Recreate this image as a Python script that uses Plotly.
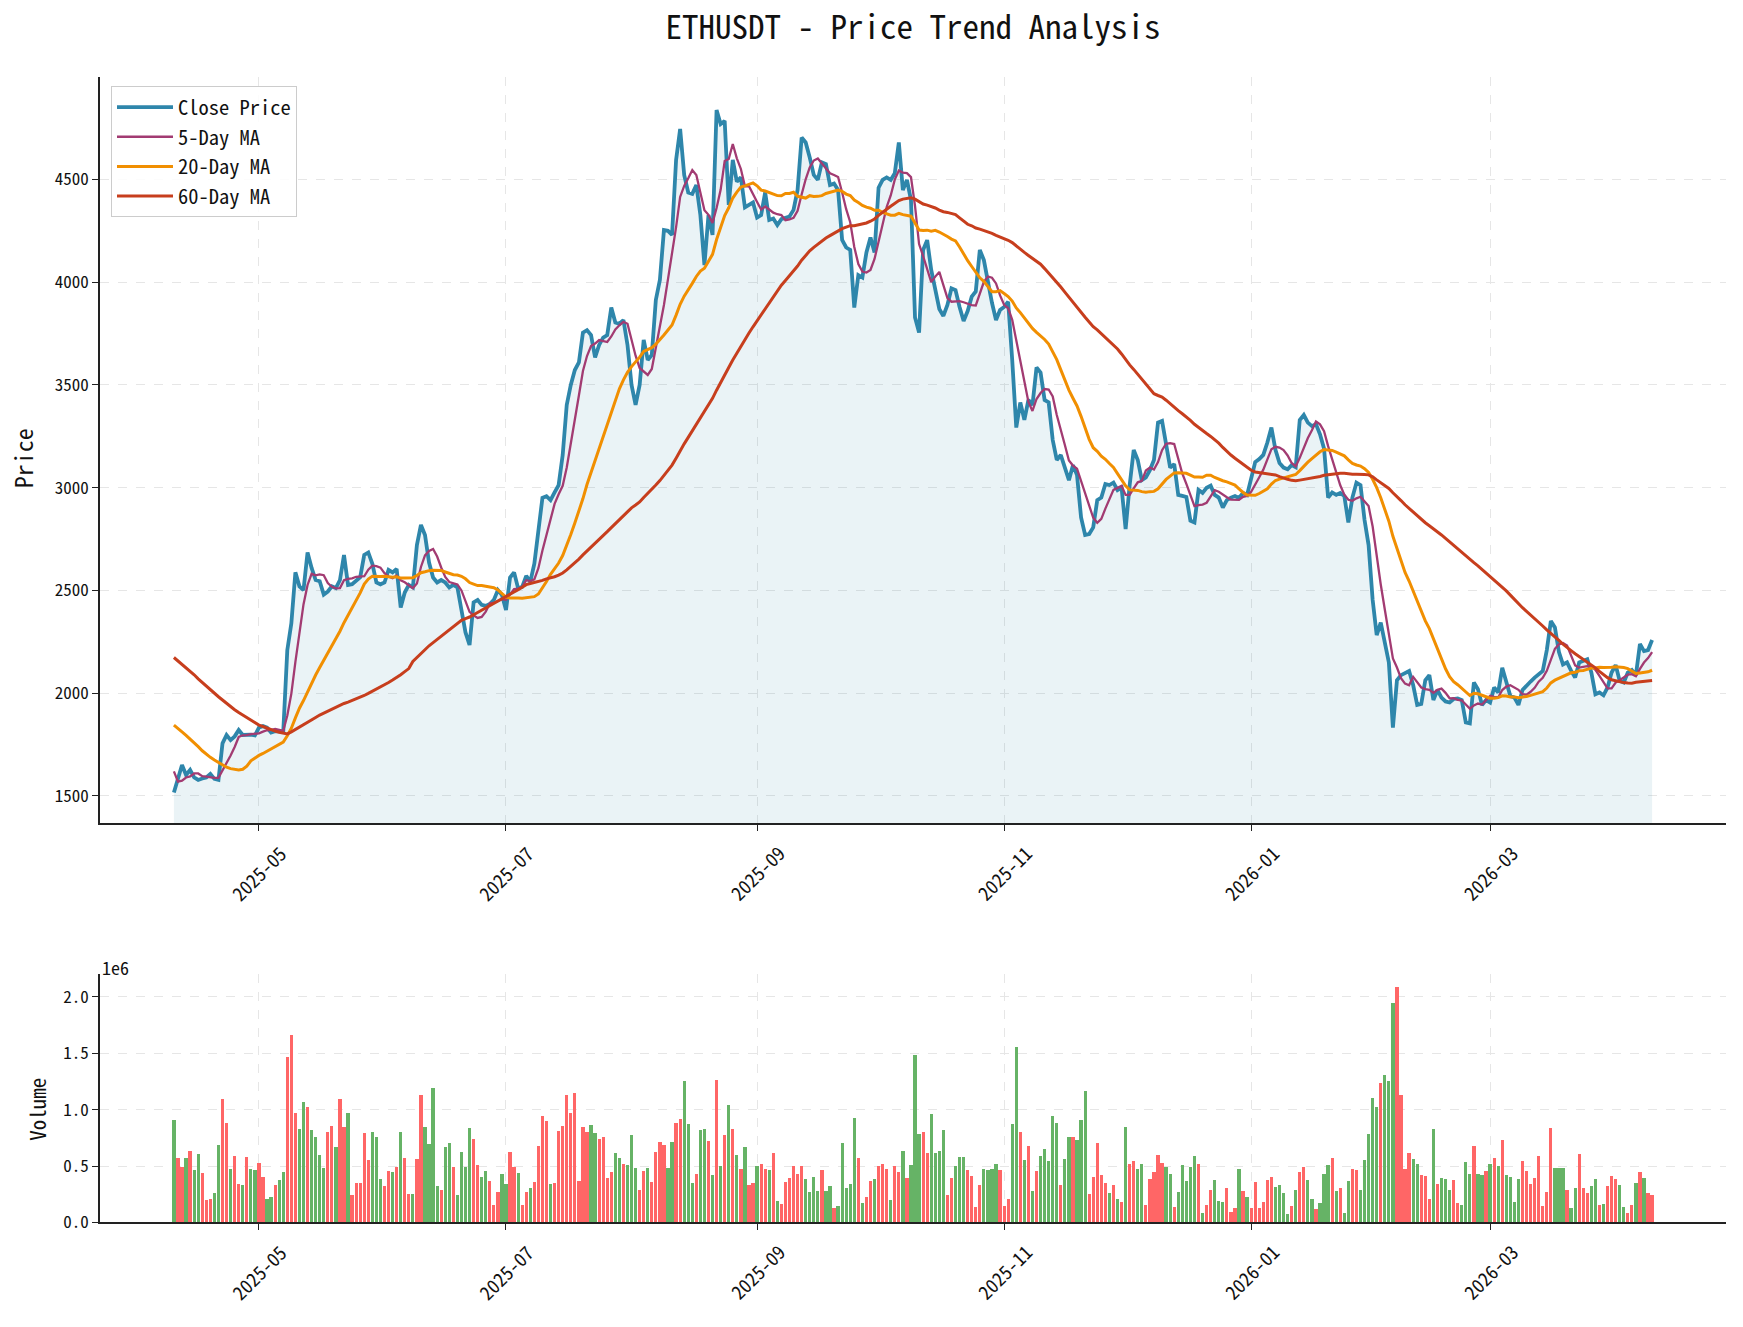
import numpy as np
import pandas as pd
import plotly.graph_objects as go

# ---------------- data ----------------
dates = pd.date_range("2025-04-10", "2026-04-10", freq="D")

close_2025_04 = [1517, 1578, 1651, 1602, 1627, 1590, 1578, 1585, 1590, 1607, 1583, 1578, 1756, 1797, 1772, 1790, 1821, 1797, 1800, 1799, 1795]
close_2025_05 = [1833, 1840, 1833, 1809, 1815, 1814, 1812, 2210, 2340, 2588, 2520, 2502, 2685, 2610, 2551, 2545, 2480, 2495, 2520, 2512, 2551, 2673, 2527, 2531, 2551, 2565, 2673, 2685, 2630, 2539, 2530]
close_2025_06 = [2539, 2600, 2588, 2605, 2417, 2490, 2527, 2515, 2721, 2819, 2770, 2636, 2563, 2539, 2551, 2539, 2515, 2527, 2515, 2405, 2296, 2235, 2442, 2454, 2430, 2425, 2434, 2454, 2502, 2478]
close_2025_07 = [2405, 2563, 2588, 2510, 2518, 2571, 2542, 2630, 2780, 2951, 2959, 2940, 2977, 3013, 3159, 3403, 3500, 3573, 3610, 3755, 3767, 3743, 3634, 3695, 3731, 3743, 3877, 3804, 3798, 3816, 3695]
close_2025_08 = [3500, 3403, 3500, 3719, 3622, 3646, 3914, 4011, 4254, 4250, 4230, 4595, 4746, 4522, 4437, 4430, 4473, 4327, 4084, 4327, 4230, 4838, 4770, 4785, 4376, 4595, 4490, 4510, 4364, 4376, 4388]
close_2025_09 = [4315, 4327, 4437, 4303, 4310, 4278, 4307, 4312, 4320, 4352, 4449, 4704, 4680, 4607, 4522, 4498, 4583, 4575, 4473, 4480, 4449, 4206, 4169, 4157, 3877, 4035, 4023, 4145, 4218, 4145]
close_2025_10 = [4460, 4498, 4510, 4498, 4530, 4680, 4449, 4498, 4400, 3828, 3755, 4157, 4205, 4060, 3960, 3870, 3836, 3890, 3970, 3962, 3880, 3811, 3860, 3930, 3955, 4157, 4108, 3990, 3900, 3816, 3865]
close_2025_11 = [3880, 3905, 3621, 3293, 3415, 3330, 3427, 3402, 3585, 3561, 3427, 3415, 3232, 3135, 3159, 3098, 3037, 3110, 3062, 2855, 2770, 2775, 2807, 2940, 2952, 3018, 3013, 3025, 2989, 3001]
close_2025_12 = [2799, 3013, 3184, 3135, 3037, 3050, 3086, 3135, 3317, 3325, 3208, 3098, 3115, 2965, 2960, 2955, 2840, 2831, 2989, 2975, 3000, 3010, 2965, 2952, 2904, 2940, 2952, 2960, 2950, 2975, 2965]
close_2026_01 = [3050, 3125, 3140, 3160, 3220, 3293, 3184, 3120, 3098, 3090, 3110, 3100, 3330, 3354, 3317, 3300, 3310, 3260, 3190, 2952, 2977, 2965, 2975, 2960, 2831, 2952, 3025, 3013, 2843, 2721, 2454]
close_2026_02 = [2283, 2344, 2235, 2150, 1833, 2063, 2088, 2100, 2108, 2040, 1943, 1948, 2063, 2088, 1967, 2016, 1979, 1960, 1955, 1972, 1975, 1967, 1858, 1853, 2052, 2020, 1943, 1967]
close_2026_03 = [1955, 2028, 2004, 2124, 2052, 1986, 1979, 1943, 2016, 2040, 2057, 2076, 2093, 2108, 2210, 2351, 2320, 2200, 2140, 2150, 2110, 2076, 2150, 2160, 2165, 2101, 1995, 2004, 1990, 2028, 2101]
close_2026_04 = [2137, 2060, 2052, 2101, 2113, 2088, 2240, 2205, 2210, 2259]

# moving-average values at the start of the window (their history lies before the chart)
ma5_head = [1620, 1570, 1575, 1590]
ma20_head = [1845, 1830, 1812, 1795, 1778, 1760, 1740, 1720, 1702, 1688, 1675, 1662, 1652, 1640, 1633, 1629, 1627, 1630, 1645]
ma60_head = [2174, 2158, 2141, 2124, 2107, 2090, 2070, 2052, 2035, 2018, 2000, 1983, 1967, 1950, 1935, 1920, 1906, 1893, 1880, 1868, 1856,
             1845, 1838, 1830, 1822, 1816, 1810, 1805, 1802, 1812, 1823, 1834, 1845, 1857, 1869, 1882, 1894, 1904, 1914, 1924, 1934,
             1943, 1950, 1957, 1965, 1972, 1979, 1989, 1999, 2009, 2018, 2028, 2040, 2052, 2064, 2076, 2090, 2105, 2120]

# volume in millions
vol_2025_04 = [0.909, 0.576, 0.497, 0.576, 0.637, 0.471, 0.611, 0.444, 0.199, 0.216, 0.269, 0.690, 1.094, 0.883, 0.480, 0.594, 0.348, 0.339, 0.585, 0.480, 0.471]
vol_2025_05 = [0.532, 0.409, 0.208, 0.234, 0.339, 0.383, 0.453, 1.471, 1.664, 0.971, 0.830, 1.067, 1.023, 0.822, 0.760, 0.602, 0.488, 0.804, 0.857, 0.673, 1.094, 0.848, 0.971, 0.251, 0.357, 0.357, 0.795, 0.558, 0.804, 0.760, 0.392]
vol_2025_06 = [0.330, 0.462, 0.453, 0.497, 0.804, 0.576, 0.260, 0.260, 0.567, 1.137, 0.848, 0.699, 1.199, 0.330, 0.295, 0.673, 0.708, 0.497, 0.251, 0.629, 0.497, 0.839, 0.743, 0.515, 0.409, 0.462, 0.374, 0.155, 0.278, 0.436]
vol_2025_07 = [0.348, 0.629, 0.497, 0.444, 0.155, 0.278, 0.313, 0.365, 0.681, 0.944, 0.901, 0.348, 0.357, 0.813, 0.857, 1.129, 0.971, 1.155, 0.374, 0.848, 0.804, 0.865, 0.795, 0.743, 0.760, 0.401, 0.453, 0.620, 0.576, 0.523, 0.515]
vol_2025_08 = [0.778, 0.488, 0.295, 0.462, 0.488, 0.365, 0.629, 0.716, 0.690, 0.488, 0.716, 0.883, 0.918, 1.260, 0.874, 0.357, 0.436, 0.822, 0.830, 0.725, 0.427, 1.269, 0.506, 0.778, 1.041, 0.830, 0.602, 0.480, 0.673, 0.339, 0.357]
vol_2025_09 = [0.506, 0.523, 0.480, 0.471, 0.620, 0.190, 0.164, 0.365, 0.401, 0.506, 0.436, 0.506, 0.392, 0.278, 0.409, 0.287, 0.471, 0.287, 0.330, 0.129, 0.146, 0.708, 0.313, 0.348, 0.927, 0.576, 0.173, 0.234, 0.374, 0.392]
vol_2025_10 = [0.506, 0.523, 0.480, 0.199, 0.506, 0.453, 0.637, 0.401, 0.515, 1.488, 0.787, 0.804, 0.620, 0.962, 0.620, 0.637, 0.822, 0.251, 0.401, 0.506, 0.585, 0.585, 0.471, 0.418, 0.137, 0.339, 0.480, 0.471, 0.480, 0.523, 0.471]
vol_2025_11 = [0.146, 0.216, 0.874, 1.558, 0.804, 0.558, 0.681, 0.287, 0.462, 0.594, 0.655, 0.550, 0.944, 0.883, 0.339, 0.567, 0.760, 0.760, 0.734, 0.909, 1.173, 0.260, 0.409, 0.708, 0.427, 0.357, 0.269, 0.339, 0.216, 0.181]
vol_2025_12 = [0.848, 0.523, 0.550, 0.480, 0.523, 0.155, 0.392, 0.453, 0.602, 0.532, 0.497, 0.436, 0.137, 0.278, 0.515, 0.374, 0.497, 0.594, 0.523, 0.085, 0.155, 0.295, 0.383, 0.190, 0.181, 0.313, 0.094, 0.129, 0.480, 0.287, 0.234]
vol_2026_01 = [0.129, 0.365, 0.129, 0.181, 0.383, 0.409, 0.322, 0.339, 0.269, 0.076, 0.146, 0.295, 0.453, 0.497, 0.383, 0.216, 0.120, 0.173, 0.436, 0.515, 0.576, 0.287, 0.313, 0.085, 0.374, 0.480, 0.471, 0.295, 0.558, 0.787, 1.111]
vol_2026_02 = [1.023, 1.243, 1.313, 1.260, 1.944, 2.094, 1.137, 0.480, 0.620, 0.567, 0.523, 0.427, 0.418, 0.216, 0.830, 0.348, 0.401, 0.392, 0.295, 0.383, 0.173, 0.155, 0.541, 0.436, 0.681, 0.436, 0.427, 0.462]
vol_2026_03 = [0.523, 0.576, 0.506, 0.734, 0.427, 0.409, 0.181, 0.392, 0.550, 0.462, 0.348, 0.401, 0.594, 0.146, 0.278, 0.839, 0.488, 0.488, 0.488, 0.295, 0.129, 0.313, 0.611, 0.313, 0.269, 0.330, 0.392, 0.155, 0.164, 0.330, 0.418]
vol_2026_04 = [0.392, 0.339, 0.137, 0.085, 0.155, 0.357, 0.453, 0.401, 0.269, 0.251]

# bar colour per day: R = up day (red), G = down day (green)
updown_2025_04 = "GRRGRGGRRRGGRRGRRGRGG"
updown_2025_05 = "RRGGRGGRRRGGRGGGGRRGRRGRRRRRGGG"
updown_2025_06 = "RRGRGRRGRRGGGGRGGRGGGGRRGGRRRG"
updown_2025_07 = "GRRGRRGRRRRGRRRRRRRRRGGRRRRGGRG"
updown_2025_08 = "GGRRGRRRRGGRRGGGRGGRGRGRGRGRGRR"
updown_2025_09 = "GRRGRGRRRRRRGGGGRGGRGGGGGRGRRG"
updown_2025_10 = "RRRGRRGRGGGRRGGGGRRGGGRRRRGGGGR"
updown_2025_11 = "RRGGRGRGRGGGGGRGGRGGGRRRRRGRGR"
updown_2025_12 = "GRRGGRRRRRGGRGGGGGRGRRGGGRRRGRG"
updown_2026_01 = "RRRRRRGGGGRGRRGGRGGGRGRGGRRGGGG"
updown_2026_02 = "GRGGGRRRRGGRRRGRGGGRRGGGRGGR"
updown_2026_03 = "GRGRGGGGRRRRRRRRGGGRGGRRRGGRGRR"
updown_2026_04 = "RGGRRGRGRR"

price_ticks = [1500, 2000, 2500, 3000, 3500, 4000, 4500]
vol_ticks = [0.0, 0.5, 1.0, 1.5, 2.0]
vol_tick_labels = ["0.0", "0.5", "1.0", "1.5", "2.0"]
month_ticks = ["2025-05-01", "2025-07-01", "2025-09-01", "2025-11-01", "2026-01-01", "2026-03-01"]
month_labels = ["2025-05", "2025-07", "2025-09", "2025-11", "2026-01", "2026-03"]

# ---------------- assemble ----------------
close = np.array(close_2025_04 + close_2025_05 + close_2025_06 + close_2025_07 + close_2025_08 + close_2025_09 +
                 close_2025_10 + close_2025_11 + close_2025_12 + close_2026_01 + close_2026_02 + close_2026_03 +
                 close_2026_04, dtype=float)
volume = np.array(vol_2025_04 + vol_2025_05 + vol_2025_06 + vol_2025_07 + vol_2025_08 + vol_2025_09 +
                  vol_2025_10 + vol_2025_11 + vol_2025_12 + vol_2026_01 + vol_2026_02 + vol_2026_03 +
                  vol_2026_04) * 1e6
updown = (updown_2025_04 + updown_2025_05 + updown_2025_06 + updown_2025_07 + updown_2025_08 + updown_2025_09 +
          updown_2025_10 + updown_2025_11 + updown_2025_12 + updown_2026_01 + updown_2026_02 + updown_2026_03 +
          updown_2026_04)

s = pd.Series(close)
ma5 = s.rolling(5).mean().to_numpy()
ma20 = s.rolling(20).mean().to_numpy()
ma60 = s.rolling(60).mean().to_numpy()
ma5[:len(ma5_head)] = ma5_head
ma20[:len(ma20_head)] = ma20_head
ma60[:len(ma60_head)] = ma60_head

bar_colors = ["#FF6666" if c == "R" else "#66B366" for c in updown]

FONT = "Noto Sans Mono CJK SC, DejaVu Sans Mono, monospace"
TXT = "#111111"
W, H = 1743, 1327
x0, x1 = 100 / W, 1726 / W
xr = [pd.Timestamp("2025-04-10") - pd.Timedelta(hours=18.25 * 24), pd.Timestamp("2026-04-10") + pd.Timedelta(hours=18.25 * 24)]

fig = go.Figure()
fig.add_trace(go.Scatter(x=dates, y=close, mode="lines", line=dict(width=0), fill="tozeroy",
                         fillcolor="rgba(46,134,171,0.1)", showlegend=False, hoverinfo="skip", xaxis="x", yaxis="y"))
fig.add_trace(go.Scatter(x=dates, y=close, mode="lines", name="Close Price", legendgroup="a",
                         line=dict(color="#2E86AB", width=3.8), xaxis="x", yaxis="y"))
fig.add_trace(go.Scatter(x=dates, y=ma5, mode="lines", name="5-Day MA", legendgroup="b",
                         line=dict(color="#A23B72", width=2.3), xaxis="x", yaxis="y"))
fig.add_trace(go.Scatter(x=dates, y=ma20, mode="lines", name="20-Day MA", legendgroup="c",
                         line=dict(color="#F18F01", width=3), xaxis="x", yaxis="y"))
fig.add_trace(go.Scatter(x=dates, y=ma60, mode="lines", name="60-Day MA", legendgroup="d",
                         line=dict(color="#C73E1D", width=3), xaxis="x", yaxis="y"))
fig.add_trace(go.Bar(x=dates, y=volume, marker=dict(color=bar_colors, line=dict(width=0)),
                     width=0.8 * 86400000, showlegend=False, xaxis="x2", yaxis="y2"))

grid = dict(showgrid=True, gridcolor="#E6E6E6", griddash="dash", gridwidth=1.2)
axline = dict(showline=True, linecolor="#222222", linewidth=1.5, ticks="outside", ticklen=6,
              tickwidth=1.3, tickcolor="#222222", zeroline=False, mirror=False)
tickfont = dict(family=FONT, size=17, color=TXT)

annotations = [
    dict(text="Price", x=22 / W, y=1 - 462 / H, xref="paper", yref="paper", textangle=-90, showarrow=False,
         font=dict(family=FONT, size=24, color=TXT), xanchor="center", yanchor="middle"),
    dict(text="Volume", x=37 / W, y=1 - 1119 / H, xref="paper", yref="paper", textangle=-90, showarrow=False,
         font=dict(family=FONT, size=21, color=TXT), xanchor="center", yanchor="middle"),
    dict(text="1e6", x=100 / W, y=1 - 975 / H, xref="paper", yref="paper", showarrow=False,
         font=dict(family=FONT, size=18, color=TXT), xanchor="left", yanchor="middle"),
]
for xa, yc in (("x", 880), ("x2", 1282)):
    for t, lab in zip(month_ticks, month_labels):
        annotations.append(dict(text=lab, x=t, xref=xa, y=1 - yc / H, yref="paper", textangle=-45, showarrow=False,
                                font=dict(family=FONT, size=19, color=TXT), xanchor="center", yanchor="middle"))

fig.update_layout(
    width=W, height=H, margin=dict(l=0, r=0, t=0, b=0),
    paper_bgcolor="white", plot_bgcolor="white",
    title=dict(text="ETHUSDT - Price Trend Analysis", x=913 / W, xanchor="center", y=1 - 27 / H, yanchor="middle",
               font=dict(family=FONT, size=33, color=TXT)),
    xaxis=dict(domain=[x0, x1], anchor="y", type="date", range=xr, tickvals=month_ticks, showticklabels=False,
               **grid, **axline),
    yaxis=dict(domain=[1 - 830 / H, 1 - 78 / H], anchor="x", range=[1368, 4997], tickvals=price_ticks,
               tickfont=tickfont, **grid, **axline),
    xaxis2=dict(domain=[x0, x1], anchor="y2", type="date", range=xr, tickvals=month_ticks, showticklabels=False,
                **grid, **axline),
    yaxis2=dict(domain=[1 - 1232.7 / H, 1 - 981.7 / H], anchor="x2", range=[0, 2.205e6],
                tickvals=[v * 1e6 for v in vol_ticks], ticktext=vol_tick_labels, tickfont=tickfont, **grid, **axline),
    legend=dict(x=111 / W, y=1 - 87 / H, xanchor="left", yanchor="top", bgcolor="rgba(255,255,255,0.85)",
                bordercolor="#CCCCCC", borderwidth=1, tracegroupgap=0, itemwidth=56,
                font=dict(family=FONT, size=20.5, color=TXT)),
    bargap=0,
    annotations=annotations,
)

fig.write_html("out.html")
